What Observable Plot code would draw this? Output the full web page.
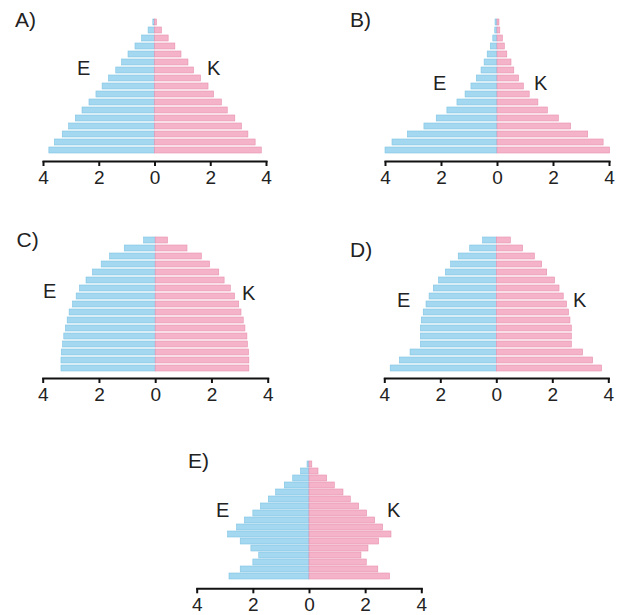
<!DOCTYPE html>
<html><head><meta charset="utf-8">
<script src="https://cdn.jsdelivr.net/npm/d3@7"></script>
<script src="https://cdn.jsdelivr.net/npm/@observablehq/plot@0.6"></script>
<style>
html,body{margin:0;padding:0;background:#fff;}
#root{position:relative;width:621px;height:615px;overflow:hidden;font-family:"Liberation Sans",Arial,sans-serif;}
.panel{position:absolute;}
.lbl{position:absolute;line-height:20px;color:#222;white-space:nowrap;}
</style></head><body><div id="root"></div>
<script>
// Age groups, oldest (top) first
const ages = ["80+","75-79","70-74","65-69","60-64","55-59","50-54","45-49","40-44","35-39","30-34","25-29","20-24","15-19","10-14","5-9","0-4"];
const xTicks = [-4, -2, 0, 2, 4];
const panelLetters = ["A)", "B)", "C)", "D)", "E)"];
const sexLabels = ["E", "K"]; // E = males (left), K = females (right)

// Percent of population, top (oldest) to bottom (youngest)
const maleA   = [0.06,0.23,0.46,0.70,0.95,1.18,1.39,1.65,1.88,2.10,2.35,2.60,2.84,3.08,3.31,3.59,3.79];
const femaleA = [0.07,0.25,0.49,0.73,0.95,1.20,1.40,1.65,1.92,2.12,2.40,2.61,2.88,3.12,3.35,3.61,3.83];
const maleB   = [0.07,0.08,0.15,0.24,0.35,0.46,0.57,0.74,0.93,1.14,1.43,1.79,2.17,2.61,3.20,3.75,4.00];
const femaleB = [0.07,0.10,0.19,0.26,0.35,0.50,0.60,0.77,0.94,1.15,1.46,1.80,2.19,2.63,3.24,3.79,4.02];
const maleC   = [0.41,1.10,1.62,1.92,2.23,2.46,2.69,2.81,2.94,3.06,3.13,3.19,3.25,3.29,3.34,3.35,3.35];
const femaleC = [0.44,1.13,1.64,1.93,2.26,2.45,2.67,2.82,2.97,3.05,3.13,3.19,3.26,3.28,3.32,3.33,3.33];
const maleD   = [0.49,0.95,1.36,1.63,1.82,2.06,2.25,2.40,2.51,2.61,2.68,2.71,2.71,2.71,3.08,3.46,3.79];
const femaleD = [0.50,0.94,1.36,1.62,1.80,2.08,2.24,2.39,2.51,2.58,2.63,2.68,2.68,2.68,3.08,3.44,3.76];
const maleE   = [0.07,0.30,0.58,0.88,1.19,1.45,1.73,2.00,2.30,2.58,2.90,2.45,2.07,1.79,2.00,2.45,2.85];
const femaleE = [0.10,0.32,0.63,0.90,1.21,1.47,1.77,2.05,2.34,2.62,2.92,2.48,2.10,1.85,2.04,2.45,2.87];

const blueFill = "#a3d8f0", blueStroke = "#80c3e3";
const pinkFill = "#f5b3c9", pinkStroke = "#e690ae";

const panels = [
  {male: maleA, female: femaleA, left: 0,   top: 0,   w: 290, h: 191, ml: 43,   mr: 24,   mt: 12, mb: 30,
   letter: [15, 27], E: [77, 75], K: [207, 75]},
  {male: maleB, female: femaleB, left: 340, top: 0,   w: 281, h: 191, ml: 45,   mr: 12,   mt: 12, mb: 30,
   letter: [350, 26.5], E: [433, 90], K: [534, 90]},
  {male: maleC, female: femaleC, left: 0,   top: 215, w: 290, h: 193, ml: 42.7, mr: 22.3, mt: 15, mb: 30,
   letter: [16.5, 246.5], E: [43, 298], K: [242, 300]},
  {male: maleD, female: femaleD, left: 340, top: 215, w: 281, h: 193, ml: 44.3, mr: 12.7, mt: 15, mb: 30,
   letter: [350, 256.5], E: [397, 306.5], K: [573, 306.5]},
  {male: maleE, female: femaleE, left: 170, top: 430, w: 280, h: 185, ml: 26.7, mr: 28.7, mt: 21, mb: 26.7,
   letter: [188, 468], E: [216, 517], K: [387, 517]}
];

const root = document.getElementById("root");

function addLabel(text, pos, size) {
  const d = document.createElement("div");
  d.className = "lbl";
  d.style.fontSize = size + "px";
  d.style.left = pos[0] + "px";
  d.style.top = (pos[1] - 17) + "px";
  d.textContent = text;
  root.appendChild(d);
}

panels.forEach((p, i) => {
  const menRows = ages.map((a, j) => ({age: a, v: -p.male[j]}));
  const womenRows = ages.map((a, j) => ({age: a, v: p.female[j]}));
  const chart = Plot.plot({
    width: p.w, height: p.h,
    marginLeft: p.ml, marginRight: p.mr, marginTop: p.mt, marginBottom: p.mb,
    style: {fontFamily: "'Liberation Sans', Arial, sans-serif", fontSize: "19px", color: "#222", background: "transparent", overflow: "visible"},
    x: {domain: [-4, 4]},
    y: {domain: ages, padding: 0.2, axis: null},
    marks: [
      Plot.barX(menRows, {x: "v", y: "age", fill: blueFill, stroke: blueStroke, strokeWidth: 0.6}),
      Plot.barX(womenRows, {x: "v", y: "age", fill: pinkFill, stroke: pinkStroke, strokeWidth: 0.6}),
      Plot.frame({anchor: "bottom", stroke: "#111", strokeWidth: 2}),
      Plot.axisX({ticks: xTicks, tickFormat: d => Math.abs(d), tickSize: 5, tickPadding: 4, strokeWidth: 2, stroke: "#111", label: null})
    ]
  });
  chart.classList.add("panel");
  chart.style.left = p.left + "px";
  chart.style.top = p.top + "px";
  root.appendChild(chart);
  addLabel(panelLetters[i], p.letter, 21);
  addLabel(sexLabels[0], p.E, 20);
  addLabel(sexLabels[1], p.K, 20);
});
</script>
</body></html>
